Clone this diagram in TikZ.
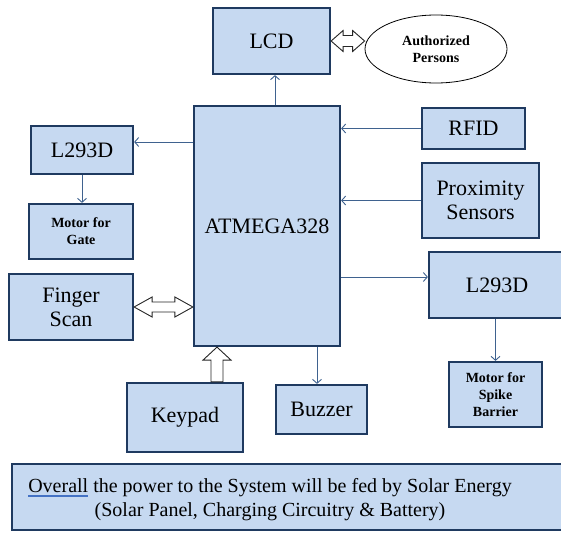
\documentclass[tikz,border=0pt]{standalone}
\usepackage{fontspec}
\newfontfamily\tnr{Liberation Serif}
\usetikzlibrary{arrows.meta,calc,shapes.geometric}
\definecolor{fillc}{HTML}{C6D9F1}
\definecolor{bordc}{HTML}{1F3A60}
\definecolor{arrc}{HTML}{3F628F}
\definecolor{ulc}{HTML}{4472C4}
\newcommand\spellul[1]{\setbox0\hbox{#1}\rlap{\color{ulc}\rule[-2.4pt]{\wd0}{0.6pt}}\rlap{\color{ulc}\rule[-4.2pt]{\wd0}{0.6pt}}\box0\relax}
\begin{document}
\begin{tikzpicture}[x=1pt,y=-1pt,
  box/.style={draw=bordc, fill=fillc, line width=2.2pt, inner sep=0pt, align=center, font=\tnr\fontsize{22}{24}\selectfont},
  small/.style={font=\tnr\bfseries\fontsize{14}{17}\selectfont},
  conn/.style={draw=arrc, line width=0.9pt, -{Straight Barb[length=4pt,width=9pt]}},
  hollow/.style={draw=black!85, line width=0.9pt, fill=white, line join=miter}]
\useasboundingbox (0,0) rectangle (561,532);
\clip (0,0) rectangle (561,532);
% helper coordinates
\coordinate (xl) at (275,0);
\coordinate (xb) at (317,0);
\coordinate (xk) at (217,0);
\coordinate (yl) at (0,142);
\coordinate (yr) at (0,277);
% blocks
\node[box, minimum width=117pt, minimum height=66pt] (lcd) at (271.5,41) {LCD};
\node[draw=black, line width=0.8pt, ellipse, minimum width=142pt, minimum height=68pt, inner sep=0pt, align=center, small] (ap) at (436,49) {Authorized\\Persons};
\node[box, minimum width=146pt, minimum height=240pt] (atm) at (267,226) {ATMEGA328};
\node[box, minimum width=102pt, minimum height=48pt] (l1) at (82,150) {L293D};
\node[box, small, minimum width=104pt, minimum height=55pt] (mg) at (81,231.5) {Motor for\\Gate};
\node[box, minimum width=124pt, minimum height=66pt] (fs) at (71,307) {Finger\\Scan};
\node[box, minimum width=103pt, minimum height=41pt] (rfid) at (473.5,128.5) {RFID};
\node[box, minimum width=117pt, minimum height=75pt] (prox) at (480.5,200.5) {Proximity\\Sensors};
\node[box, minimum width=136pt, minimum height=66pt] (l2) at (497,285) {L293D};
\node[box, small, minimum width=93pt, minimum height=65pt] (ms) at (495.5,394.5) {Motor for\\Spike\\Barrier};
\node[box, minimum width=116pt, minimum height=69pt] (kp) at (185,417.5) {Keypad};
\node[box, minimum width=91pt, minimum height=49pt] (bz) at (321.5,409.5) {Buzzer};
\node[box, line width=1.8pt, minimum width=590pt, minimum height=66pt] (pwbox) at (307,497) {};
\node[inner sep=0pt, align=center, font=\tnr\fontsize{20}{24}\selectfont] (pw) at (270,500)
  {\spellul{Overall} the power to the System will be fed by Solar Energy\\(Solar Panel, Charging Circuitry \& Battery)};
% connectors
\draw[conn] (atm.north -| xl) -- (lcd.south -| xl);
\draw[conn] (atm.west |- yl) -- (l1.east |- yl);
\draw[conn] (l1.south) -- (l1.south |- mg.north);
\draw[conn] (rfid.west) -- (rfid.west -| atm.east);
\draw[conn] (prox.west) -- (prox.west -| atm.east);
\draw[conn] (atm.east |- yr) -- (l2.west |- yr);
\draw[conn] (ms.north |- l2.south) -- (ms.north);
\draw[conn] (atm.south -| xb) -- (bz.north -| xb);
% hollow arrows
\draw[hollow] let \p1=(lcd.east), \p2=(lcd.east -| ap.west), \n1={\x2-\x1-2*12pt} in
  (\p1) -- ++(12pt,10.5pt) -- ++(0pt,-5pt) -- ++(\n1,0pt) -- ++(0pt,5pt) -- (\p2)
  -- ++(-12pt,-10.5pt) -- ++(0pt,5pt) -- ++(-\n1,0pt) -- ++(0pt,-5pt) -- cycle;
\draw[hollow] let \p1=(fs.east), \p2=(fs.east -| atm.west), \n1={\x2-\x1-2*18pt} in
  (\p1) -- ++(18pt,10pt) -- ++(0pt,-5pt) -- ++(\n1,0pt) -- ++(0pt,5pt) -- (\p2)
  -- ++(-18pt,-10pt) -- ++(0pt,5pt) -- ++(-\n1,0pt) -- ++(0pt,-5pt) -- cycle;
\draw[hollow] let \p1=(kp.north -| xk), \p2=(atm.south -| xk) in
  (\x1-6pt,\y1) -- (\x1-6pt,\y2-13pt) -- (\x1-14pt,\y2-13pt) -- (\p2)
  -- (\x1+14pt,\y2-13pt) -- (\x1+6pt,\y2-13pt) -- (\x1+6pt,\y1) -- cycle;
\end{tikzpicture}
\end{document}
